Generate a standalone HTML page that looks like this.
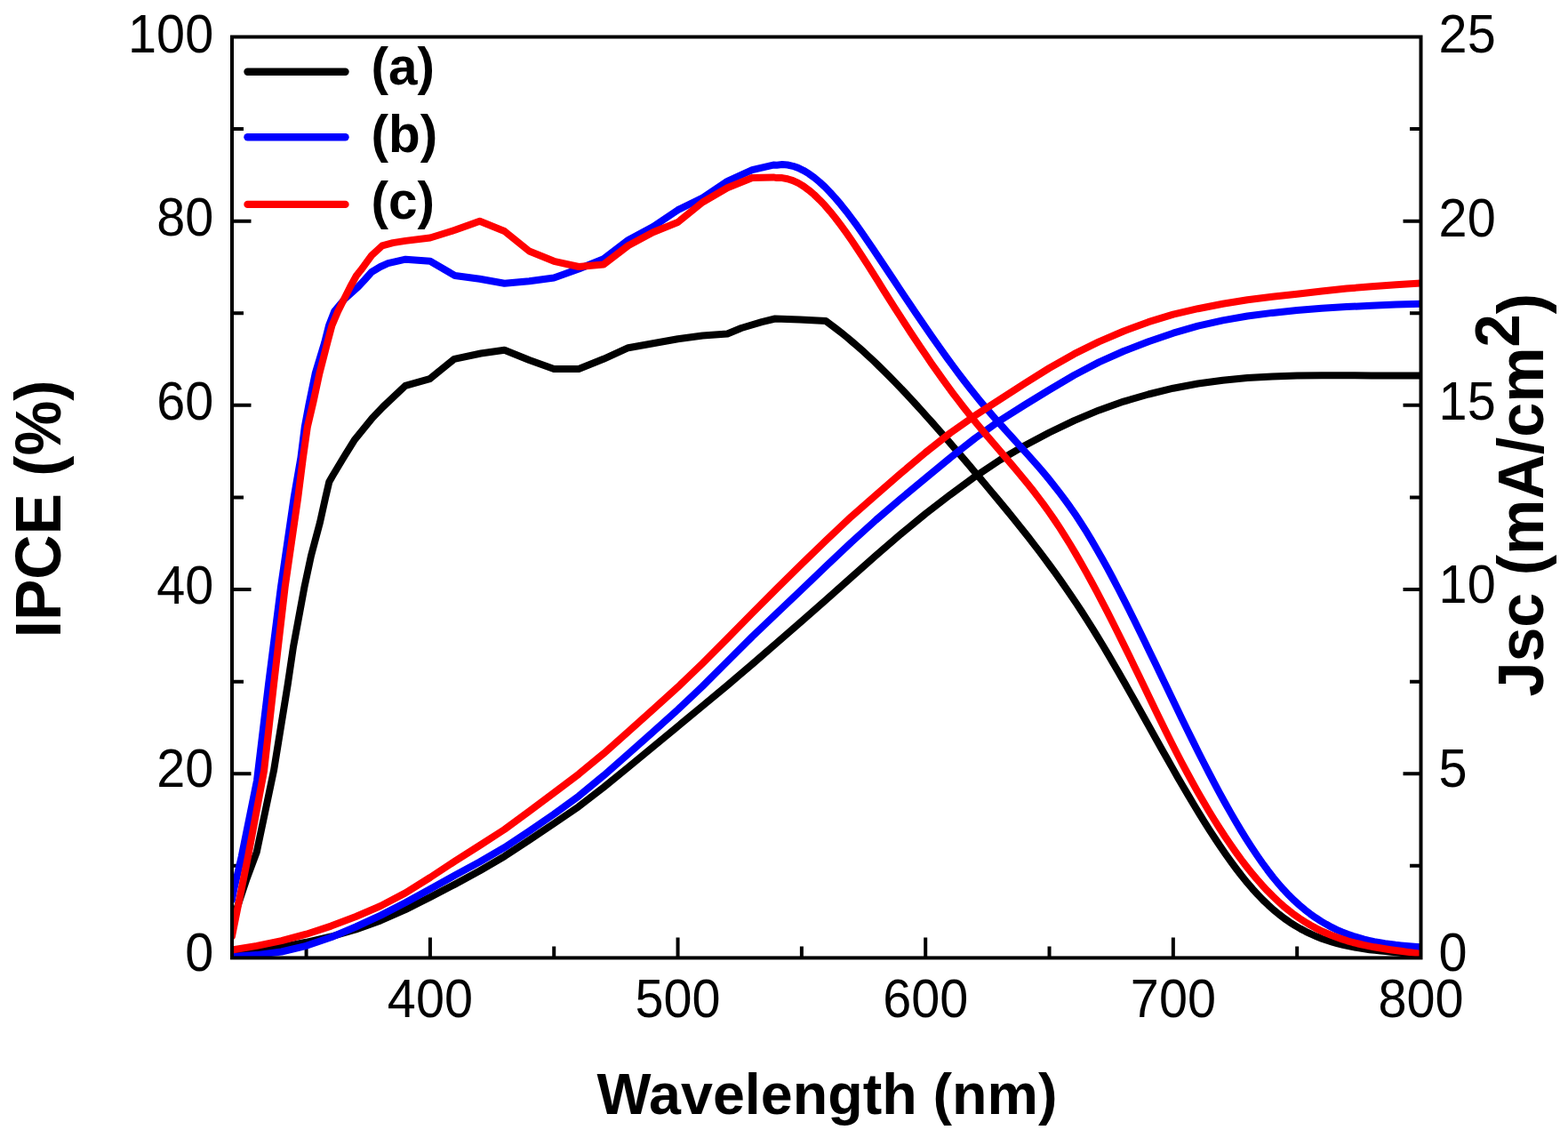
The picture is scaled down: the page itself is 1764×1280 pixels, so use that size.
<!DOCTYPE html>
<html><head><meta charset="utf-8"><title>IPCE and Jsc vs Wavelength</title>
<style>
html,body{margin:0;padding:0;background:#fff;}
body{width:1764px;height:1280px;overflow:hidden;}
svg{display:block;}
.tl{font-family:"Liberation Sans",Arial,sans-serif;font-size:60.9px;fill:#000;}
.lg{font-family:"Liberation Sans",Arial,sans-serif;font-size:58.5px;font-weight:bold;fill:#000;}
.at{font-family:"Liberation Sans",Arial,sans-serif;font-size:70px;font-weight:bold;fill:#000;}
.sup{font-size:67px;}
</style></head>
<body>
<svg width="1764" height="1280" viewBox="0 0 1764 1280">
<rect width="1764" height="1280" fill="#fff"/>
<path d="M344.59 1077.4V1064.4M483.92 1077.4V1054.4M623.24 1077.4V1064.4M762.56 1077.4V1054.4M901.89 1077.4V1064.4M1041.21 1077.4V1054.4M1180.53 1077.4V1064.4M1319.85 1077.4V1054.4M1459.18 1077.4V1064.4M261 973.81H274M1598.5 973.81H1586.0M261 870.22H282.5M1598.5 870.22H1578.5M261 766.63H274M1598.5 766.63H1586.0M261 663.04H282.5M1598.5 663.04H1578.5M261 559.45H274M1598.5 559.45H1586.0M261 455.86H282.5M1598.5 455.86H1578.5M261 352.27H274M1598.5 352.27H1586.0M261 248.68H282.5M1598.5 248.68H1578.5M261 145.09H274M1598.5 145.09H1586.0" stroke="#000" stroke-width="4" fill="none"/>
<defs><clipPath id="pc"><rect x="259.5" y="39.5" width="1340.5" height="1039.4"/></clipPath></defs>
<g clip-path="url(#pc)">
<polyline points="261.0,1031.0 265.7,1024.0 277.8,987.8 288.7,958.7 308.0,866.8 323.7,770.0 330.0,727.5 342.5,660.0 350.0,625.0 360.0,587.5 366.1,560.0 370.3,542.0 374.0,535.5 386.0,515.5 398.5,495.3 419.0,470.0 431.0,457.5 456.0,433.8 483.5,426.2 511.0,403.8 541.0,397.5 567.5,393.8 595.4,405.0 623.2,415.0 651.1,415.0 679.0,403.8 706.8,391.2 734.7,386.2 762.6,381.2 790.4,377.5 818.3,375.5 834.0,369.0 857.0,362.2 872.0,358.5 900.0,359.5 929.0,361.1 935.0,365.5 941.0,370.0 947.0,374.7 953.0,379.5 959.0,384.6 965.0,389.8 971.0,395.1 977.0,400.6 983.0,406.2 989.0,412.0 995.0,417.9 1001.0,423.9 1007.0,430.0 1013.0,436.2 1019.0,442.6 1025.0,449.0 1031.0,455.5 1037.0,462.1 1043.0,468.8 1049.0,475.5 1055.0,482.4 1061.0,489.2 1067.0,496.2 1073.0,503.1 1079.0,510.1 1085.0,517.2 1091.0,524.2 1097.0,531.3 1103.0,538.4 1109.0,545.5 1115.0,552.7 1121.0,559.9 1127.0,567.1 1133.0,574.4 1139.0,581.8 1145.0,589.2 1151.0,596.7 1157.0,604.3 1163.0,612.1 1169.0,619.9 1175.0,627.9 1181.0,636.0 1187.0,644.2 1193.0,652.6 1199.0,661.2 1205.0,669.9 1211.0,678.9 1217.0,688.0 1223.0,697.3 1229.0,706.8 1235.0,716.6 1241.0,726.5 1247.0,736.6 1253.0,746.9 1259.0,757.3 1265.0,767.8 1271.0,778.4 1277.0,789.0 1283.0,799.7 1289.0,810.5 1295.0,821.2 1301.0,832.0 1307.0,842.7 1313.0,853.3 1319.0,863.9 1325.0,874.4 1331.0,884.7 1337.0,894.9 1343.0,905.0 1349.0,914.9 1355.0,924.6 1361.0,934.1 1367.0,943.3 1373.0,952.3 1379.0,961.0 1385.0,969.4 1391.0,977.5 1397.0,985.3 1403.0,992.7 1409.0,999.7 1415.0,1006.3 1421.0,1012.5 1427.0,1018.2 1433.0,1023.6 1439.0,1028.5 1445.0,1033.1 1451.0,1037.3 1457.0,1041.1 1463.0,1044.6 1469.0,1047.8 1475.0,1050.7 1481.0,1053.3 1487.0,1055.7 1493.0,1057.8 1499.0,1059.7 1505.0,1061.4 1511.0,1062.9 1517.0,1064.2 1523.0,1065.4 1529.0,1066.4 1535.0,1067.3 1541.0,1068.2 1547.0,1068.9 1553.0,1069.5 1559.0,1070.1 1565.0,1070.7 1571.0,1071.3 1577.0,1071.9 1583.0,1072.4 1589.0,1073.1 1595.0,1073.7 1598.5,1074.2" fill="none" stroke="#000" stroke-width="8.0" stroke-linejoin="round" stroke-linecap="round"/>
<polyline points="261.0,1072.9 288.9,1069.4 316.7,1065.1 344.6,1059.8 372.5,1053.5 400.3,1045.5 428.2,1035.4 456.1,1023.1 483.9,1009.1 511.8,994.6 539.6,979.5 567.5,963.2 595.4,944.8 623.2,926.2 651.1,907.2 679.0,885.7 706.8,863.0 734.7,840.0 762.6,817.0 790.4,794.0 818.3,770.8 846.2,747.1 874.0,723.0 901.9,698.7 929.8,674.2 957.6,649.4 985.5,624.7 1013.3,600.8 1041.2,577.9 1069.1,556.4 1096.9,536.1 1124.8,517.5 1152.7,501.2 1180.5,486.5 1208.4,473.1 1236.3,461.4 1264.1,451.6 1292.0,443.5 1319.9,436.7 1347.7,431.5 1375.6,427.7 1403.4,425.1 1431.3,423.6 1459.2,422.6 1487.0,422.2 1514.9,422.2 1542.8,422.4 1570.6,422.4 1598.5,422.4" fill="none" stroke="#000" stroke-width="8.0" stroke-linejoin="round" stroke-linecap="round"/>
<polyline points="261.0,1012.0 263.3,999.9 271.7,963.6 289.0,878.0 302.0,770.0 316.0,660.0 330.6,560.0 338.4,515.0 342.8,480.0 347.5,455.0 354.7,420.0 365.0,386.0 370.0,366.2 376.3,350.0 388.0,336.0 403.0,322.5 410.0,315.0 418.0,306.0 428.0,300.0 436.6,296.1 456.3,291.7 483.9,293.8 511.8,310.0 539.7,313.8 567.5,318.8 595.4,316.2 623.2,312.5 651.1,302.5 679.0,291.2 706.8,270.0 734.7,255.0 762.6,236.2 790.4,222.5 818.3,203.8 846.2,191.2 870.0,185.6 874.0,185.7 880.0,185.1 886.0,185.5 892.0,186.8 898.0,188.9 904.0,191.8 910.0,195.4 916.0,199.8 922.0,204.8 928.0,210.3 934.0,216.5 940.0,223.1 946.0,230.2 952.0,237.7 958.0,245.6 964.0,253.7 970.0,262.2 976.0,270.9 982.0,279.7 988.0,288.7 994.0,297.7 1000.0,306.8 1006.0,315.8 1012.0,324.9 1018.0,333.9 1024.0,342.8 1030.0,351.7 1036.0,360.6 1042.0,369.3 1048.0,378.0 1054.0,386.5 1060.0,395.0 1066.0,403.3 1072.0,411.5 1078.0,419.6 1084.0,427.5 1090.0,435.2 1096.0,442.8 1102.0,450.2 1108.0,457.4 1114.0,464.4 1120.0,471.3 1126.0,478.0 1132.0,484.7 1138.0,491.3 1144.0,497.9 1150.0,504.5 1156.0,511.1 1162.0,517.9 1168.0,524.7 1174.0,531.7 1180.0,538.9 1186.0,546.4 1192.0,554.1 1198.0,562.1 1204.0,570.4 1210.0,579.1 1216.0,588.2 1222.0,597.7 1228.0,607.6 1234.0,617.9 1240.0,628.4 1246.0,639.3 1252.0,650.5 1258.0,662.0 1264.0,673.6 1270.0,685.5 1276.0,697.5 1282.0,709.7 1288.0,722.0 1294.0,734.4 1300.0,746.8 1306.0,759.3 1312.0,771.8 1318.0,784.3 1324.0,796.8 1330.0,809.2 1336.0,821.5 1342.0,833.6 1348.0,845.7 1354.0,857.5 1360.0,869.2 1366.0,880.6 1372.0,891.8 1378.0,902.7 1384.0,913.4 1390.0,923.8 1396.0,933.9 1402.0,943.6 1408.0,952.9 1414.0,961.9 1420.0,970.5 1426.0,978.7 1432.0,986.5 1438.0,993.7 1444.0,1000.6 1450.0,1006.9 1456.0,1012.8 1462.0,1018.2 1468.0,1023.3 1474.0,1027.9 1480.0,1032.2 1486.0,1036.1 1492.0,1039.6 1498.0,1042.9 1504.0,1045.8 1510.0,1048.4 1516.0,1050.8 1522.0,1052.9 1528.0,1054.7 1534.0,1056.4 1540.0,1057.8 1546.0,1059.1 1552.0,1060.2 1558.0,1061.2 1564.0,1062.0 1570.0,1062.8 1576.0,1063.4 1582.0,1064.0 1588.0,1064.5 1594.0,1065.0 1598.5,1065.3" fill="none" stroke="#0000ff" stroke-width="8.0" stroke-linejoin="round" stroke-linecap="round"/>
<polyline points="261.0,1076.1 288.9,1074.1 316.7,1070.5 344.6,1063.8 372.5,1054.2 400.3,1042.5 428.2,1029.6 456.1,1015.3 483.9,999.9 511.8,984.6 539.6,969.5 567.5,953.3 595.4,934.9 623.2,915.8 651.1,895.4 679.0,872.4 706.8,848.1 734.7,823.3 762.6,798.1 790.4,771.8 818.3,744.0 846.2,716.1 874.0,689.6 901.9,663.1 929.8,636.4 957.6,610.1 985.5,584.9 1013.3,561.0 1041.2,537.9 1069.1,514.8 1096.9,493.0 1124.8,473.1 1152.7,455.5 1180.5,438.5 1208.4,422.0 1236.3,407.4 1264.1,395.0 1292.0,384.2 1319.9,374.7 1347.7,366.7 1375.6,360.4 1403.4,355.5 1431.3,351.9 1459.2,349.0 1487.0,346.7 1514.9,345.1 1542.8,343.7 1570.6,342.6 1598.5,341.7" fill="none" stroke="#0000ff" stroke-width="8.0" stroke-linejoin="round" stroke-linecap="round"/>
<polyline points="261.0,1053.0 279.0,963.6 297.1,866.8 308.0,770.0 320.7,660.0 335.2,560.0 340.9,515.0 345.9,480.0 352.5,452.0 359.4,420.0 368.4,385.0 373.4,366.2 380.3,350.0 387.8,335.0 394.1,322.5 401.0,310.0 406.0,303.8 418.0,287.4 430.0,276.4 442.0,273.1 456.3,270.9 483.9,267.5 511.8,258.8 539.7,248.8 567.5,260.0 595.4,282.5 623.2,293.8 651.1,300.0 679.0,297.5 706.8,276.2 734.7,261.2 762.6,250.0 790.4,227.5 818.3,211.2 846.2,200.0 870.0,199.4 874.0,200.1 880.0,200.1 886.0,201.2 892.0,203.1 898.0,205.9 904.0,209.5 910.0,213.9 916.0,219.0 922.0,224.8 928.0,231.1 934.0,238.1 940.0,245.5 946.0,253.4 952.0,261.7 958.0,270.3 964.0,279.2 970.0,288.4 976.0,297.7 982.0,307.2 988.0,316.7 994.0,326.3 1000.0,335.8 1006.0,345.3 1012.0,354.7 1018.0,364.0 1024.0,373.2 1030.0,382.3 1036.0,391.3 1042.0,400.1 1048.0,408.9 1054.0,417.4 1060.0,425.9 1066.0,434.1 1072.0,442.3 1078.0,450.2 1084.0,458.0 1090.0,465.6 1096.0,473.0 1102.0,480.2 1108.0,487.4 1114.0,494.4 1120.0,501.4 1126.0,508.3 1132.0,515.3 1138.0,522.3 1144.0,529.5 1150.0,536.7 1156.0,544.1 1162.0,551.6 1168.0,559.4 1174.0,567.4 1180.0,575.8 1186.0,584.4 1192.0,593.4 1198.0,602.8 1204.0,612.5 1210.0,622.6 1216.0,633.0 1222.0,643.6 1228.0,654.5 1234.0,665.7 1240.0,677.1 1246.0,688.7 1252.0,700.5 1258.0,712.5 1264.0,724.6 1270.0,736.8 1276.0,749.2 1282.0,761.6 1288.0,774.1 1294.0,786.6 1300.0,799.0 1306.0,811.3 1312.0,823.5 1318.0,835.5 1324.0,847.3 1330.0,858.8 1336.0,870.0 1342.0,881.0 1348.0,891.7 1354.0,902.1 1360.0,912.2 1366.0,922.0 1372.0,931.5 1378.0,940.7 1384.0,949.6 1390.0,958.1 1396.0,966.4 1402.0,974.2 1408.0,981.7 1414.0,988.9 1420.0,995.7 1426.0,1002.2 1432.0,1008.2 1438.0,1013.9 1444.0,1019.3 1450.0,1024.2 1456.0,1028.8 1462.0,1033.0 1468.0,1036.9 1474.0,1040.5 1480.0,1043.8 1486.0,1046.8 1492.0,1049.5 1498.0,1052.0 1504.0,1054.3 1510.0,1056.4 1516.0,1058.3 1522.0,1060.0 1528.0,1061.5 1534.0,1062.9 1540.0,1064.1 1546.0,1065.3 1552.0,1066.3 1558.0,1067.3 1564.0,1068.2 1570.0,1069.0 1576.0,1069.8 1582.0,1070.6 1588.0,1071.4 1594.0,1072.2 1598.5,1072.9" fill="none" stroke="#ff0000" stroke-width="8.0" stroke-linejoin="round" stroke-linecap="round"/>
<polyline points="261.0,1068.5 288.9,1063.9 316.7,1058.2 344.6,1050.7 372.5,1041.6 400.3,1031.0 428.2,1019.0 456.1,1004.4 483.9,987.0 511.8,968.6 539.6,951.0 567.5,933.0 595.4,912.6 623.2,891.7 651.1,870.7 679.0,847.7 706.8,823.0 734.7,798.1 762.6,772.8 790.4,746.1 818.3,718.1 846.2,689.7 874.0,661.9 901.9,634.4 929.8,607.4 957.6,581.2 985.5,556.7 1013.3,532.6 1041.2,509.0 1069.1,487.0 1096.9,467.4 1124.8,449.3 1152.7,431.3 1180.5,414.0 1208.4,398.2 1236.3,384.4 1264.1,372.5 1292.0,362.2 1319.9,353.7 1347.7,347.2 1375.6,341.8 1403.4,337.3 1431.3,333.8 1459.2,330.7 1487.0,327.6 1514.9,324.6 1542.8,322.2 1570.6,320.2 1598.5,318.6" fill="none" stroke="#ff0000" stroke-width="8.0" stroke-linejoin="round" stroke-linecap="round"/>
</g>
<rect x="261" y="41.5" width="1337.5" height="1035.9" fill="none" stroke="#000" stroke-width="4"/>
<line x1="278.5" y1="80.8" x2="388.5" y2="80.8" stroke="#000" stroke-width="8.4" stroke-linecap="round"/>
<text x="417.5" y="95.1" class="lg">(a)</text>
<line x1="278.5" y1="154.2" x2="388.5" y2="154.2" stroke="#0000ff" stroke-width="8.4" stroke-linecap="round"/>
<text x="417.5" y="170.6" class="lg">(b)</text>
<line x1="278.5" y1="229.9" x2="388.5" y2="229.9" stroke="#ff0000" stroke-width="8.4" stroke-linecap="round"/>
<text x="417.5" y="246.1" class="lg">(c)</text>
<text transform="translate(240.2,58.6) scale(0.946,1)" class="tl" text-anchor="end">100</text>
<text transform="translate(240.2,265.2) scale(0.946,1)" class="tl" text-anchor="end">80</text>
<text transform="translate(240.2,472.2) scale(0.946,1)" class="tl" text-anchor="end">60</text>
<text transform="translate(240.2,678.6) scale(0.946,1)" class="tl" text-anchor="end">40</text>
<text transform="translate(240.2,884.8) scale(0.946,1)" class="tl" text-anchor="end">20</text>
<text transform="translate(240.2,1091.5) scale(0.946,1)" class="tl" text-anchor="end">0</text>
<text transform="translate(1618.6,59.0) scale(0.946,1)" class="tl">25</text>
<text transform="translate(1618.6,265.6) scale(0.946,1)" class="tl">20</text>
<text transform="translate(1618.6,472.4) scale(0.946,1)" class="tl">15</text>
<text transform="translate(1618.6,678.4) scale(0.946,1)" class="tl">10</text>
<text transform="translate(1618.6,885.0) scale(0.946,1)" class="tl">5</text>
<text transform="translate(1618.6,1091.6) scale(0.946,1)" class="tl">0</text>
<text transform="translate(483.9,1143.8) scale(0.946,1)" class="tl" text-anchor="middle">400</text>
<text transform="translate(762.6,1143.8) scale(0.946,1)" class="tl" text-anchor="middle">500</text>
<text transform="translate(1041.2,1143.8) scale(0.946,1)" class="tl" text-anchor="middle">600</text>
<text transform="translate(1319.9,1143.8) scale(0.946,1)" class="tl" text-anchor="middle">700</text>
<text transform="translate(1598.5,1143.8) scale(0.946,1)" class="tl" text-anchor="middle">800</text>
<text x="930.5" y="1253.3" class="at" style="font-size:64.6px" text-anchor="middle">Wavelength (nm)</text>
<text transform="translate(67.7,572.5) rotate(-90) scale(0.994,1.04)" class="at" text-anchor="middle">IPCE (%)</text>
<text transform="translate(1736.2,556.8) rotate(-90) scale(1,1.04)" class="at" text-anchor="middle">Jsc (mA/cm<tspan dy="-26.4" class="sup">2</tspan><tspan dy="26.4">)</tspan></text>
</svg>
</body></html>
